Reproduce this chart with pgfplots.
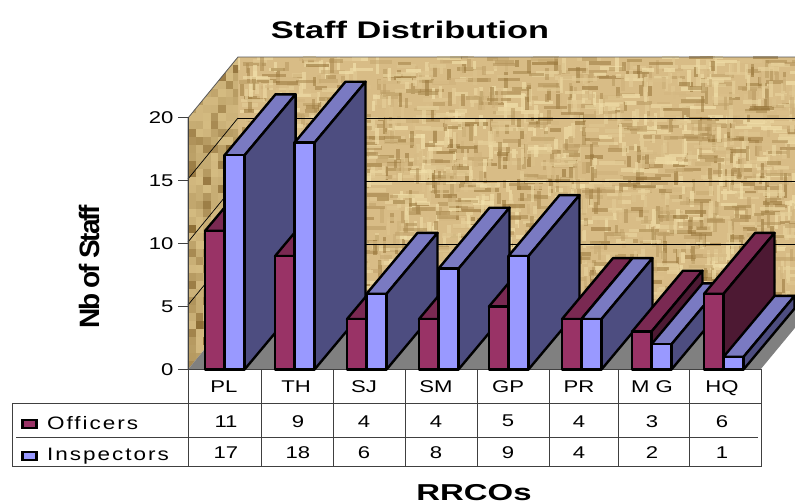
\documentclass[border=0pt]{standalone}
\usepackage{fontspec}
\usepackage{pgfplots}
\usepackage{pgfplotstable}
\pgfplotsset{compat=1.18}
\setmainfont{Liberation Sans}
\newfontfamily\tabfont[FakeStretch=1.3]{Liberation Sans}
\newfontfamily\legfont[FakeStretch=1.25,LetterSpace=11]{Liberation Sans}
\newfontfamily\headfont[FakeStretch=1.43]{Liberation Sans Bold}
\newfontfamily\yfont[LetterSpace=-8]{Liberation Sans Bold}

\definecolor{offF}{HTML}{993366}
\definecolor{offT}{HTML}{7A2952}
\definecolor{offS}{HTML}{4D1933}
\definecolor{insF}{HTML}{9999FF}
\definecolor{insT}{HTML}{7A7AC2}
\definecolor{insS}{HTML}{4D4D80}
\definecolor{wallB}{HTML}{D8BC86}
\definecolor{wallL}{HTML}{F3E2AC}
\definecolor{wallD}{HTML}{8F6C30}
\definecolor{sideL}{HTML}{E8D096}
\definecolor{sideD}{HTML}{85652E}
\definecolor{tline}{HTML}{404040}

\pgfplotstableread{
cat off ins pos lab
PL  11  17  0.238 0.531
TH  9   18  1.216 1.537
SJ  4   6   2.222 2.460
SM  4   8   3.228 3.466
GP  5   9   4.206 4.472
PR  4   4   5.226 5.464
{M G} 3 2   6.204 6.484
HQ  6   1   7.211 7.462
}\staff

% one 3d bar: x0, x1, height, front, top, side colours
\newcommand{\threedbar}[6]{%
  \pgfmathsetmacro\xa{#1}\pgfmathsetmacro\xb{#2}%
  \pgfmathsetmacro\xc{#1+0.713}\pgfmathsetmacro\xd{#2+0.713}%
  \pgfmathsetmacro\yt{#3+4.84}\pgfmathsetmacro\yb{4.84}%
  \edef\temp{%
    \noexpand\addplot[fill=#5,draw=black,line width=2.4pt,line join=round,mark=none]
      coordinates {(\xa,#3) (\xc,\yt) (\xd,\yt) (\xb,#3)} -- cycle;
    \noexpand\addplot[fill=#6,draw=black,line width=2.4pt,line join=round,mark=none]
      coordinates {(\xb,0) (\xd,\yb) (\xd,\yt) (\xb,#3)} -- cycle;
    \noexpand\addplot[fill=#4,draw=black,line width=2.4pt,line join=round,mark=none]
      coordinates {(\xa,0) (\xb,0) (\xb,#3) (\xa,#3)} -- cycle;
  }\temp}

\begin{document}
\begin{tikzpicture}
\useasboundingbox (0,0) rectangle (795pt,503pt);
\clip (0,0) rectangle (795pt,503pt);

% walls and floor in pixel coordinates
\begin{scope}[shift={(0,503pt)},x=1pt,y=-1pt]
  \pgfmathsetseed{4711}
  \begin{scope}
    \clip (238,57) rectangle (796,309);
    \fill[wallB] (238,57) rectangle (796,309);
    % woven texture: short dashes, lying and standing
    \foreach \k in {1,...,2600}{
      \pgfmathsetmacro\px{238+558*rnd}
      \pgfmathsetmacro\py{57+252*rnd}
      \pgfmathsetmacro\p{int(100*rnd)}
      \pgfmathsetmacro\ln{10+16*rnd}
      \pgfmathparse{rnd<0.5?1:0}
      \ifnum\pgfmathresult=1
        \pgfmathparse{rnd<0.5?1:0}
        \ifnum\pgfmathresult=1
          \draw[wallD!\p!wallB,line width=3.6pt,opacity=0.55] (\px,\py) -- ++(\ln,0);
        \else
          \draw[wallL!\p!wallB,line width=3.6pt,opacity=0.7] (\px,\py) -- ++(\ln,0);
        \fi
      \else
        \pgfmathparse{rnd<0.5?1:0}
        \ifnum\pgfmathresult=1
          \draw[wallD!\p!wallB,line width=3.6pt,opacity=0.55] (\px,\py) -- ++(0,\ln*0.7);
        \else
          \draw[wallL!\p!wallB,line width=3.6pt,opacity=0.7] (\px,\py) -- ++(0,\ln*0.7);
        \fi
      \fi
    }
  \end{scope}
  \begin{scope}
    \clip (188,118) -- (238,57) -- (238,308.5) -- (188,369.5) -- cycle;
    \foreach \i in {0,...,6}{
      \foreach \j in {0,...,39}{
        \pgfmathsetmacro\p{int(20+75*rnd*rnd)}
        \fill[sideD!\p!sideL] (188+\i*7.5,57+\j*8) rectangle ++(7.9,8.4);
      }
    }
  \end{scope}
  \draw[gray!70!black,line width=0.8pt] (188,369.5) -- (188,118) -- (238,57) -- (795,57);
  \foreach \y in {118,181,244}{
    \draw[black,line width=0.7pt] (238,\y) -- (795,\y);
    \draw[black,line width=0.7pt] (188,\y+61) -- (238,\y);
  }
  \fill[gray] (188,369.5) -- (238,308.5) -- (811,308.5) -- (760.5,369.5) -- cycle;
\end{scope}

\begin{axis}[
    at={(188pt,133.5pt)},
    anchor=south west,
    scale only axis,
    width=572.5pt,
    height=252pt,
    xmin=0, xmax=8,
    ymin=0, ymax=20,
    clip=false,
    axis x line=bottom,
    axis y line=left,
    axis line style={-,color=tline,line width=1pt},
    xtick={0.5,1.51,2.46,3.466,4.472,5.464,6.484,7.462},
    xticklabels from table={\staff}{cat},
    xtick style={draw=none},
    ytick={0,5,10,15,20},
    ytick style={color=tline,line width=1pt},
    tick align=outside,
    major tick length=10pt,
    /pgf/number format/assume math mode=true,
    xticklabel style={font=\tabfont\fontsize{17}{17}\selectfont,yshift=2pt},
    yticklabel style={font=\tabfont\fontsize{17}{17}\selectfont,xshift=-1pt},
  ]
\pgfplotsinvokeforeach{0,...,7}{
  \pgfplotstablegetelem{#1}{off}\of\staff \let\voff\pgfplotsretval
  \pgfplotstablegetelem{#1}{ins}\of\staff \let\vins\pgfplotsretval
  \pgfplotstablegetelem{#1}{pos}\of\staff \let\vpos\pgfplotsretval
  \pgfplotstablegetelem{#1}{lab}\of\staff \let\xn\pgfplotsretval
  \pgfmathsetmacro\xo{\vpos}
  \pgfmathsetmacro\xm{\vpos+0.272}
  \pgfmathsetmacro\xe{\vpos+0.552}
  \threedbar{\xo}{\xm}{\voff}{offF}{offT}{offS}
  \threedbar{\xm}{\xe}{\vins}{insF}{insT}{insS}
  \edef\temp{%
    \noexpand\node[font=\noexpand\tabfont\noexpand\fontsize{17}{17}\noexpand\selectfont] at (axis cs:\xn,-4.1) {\voff};
    \noexpand\node[font=\noexpand\tabfont\noexpand\fontsize{17}{17}\noexpand\selectfont] at (axis cs:\xn,-6.6) {\vins};
  }\temp
}
\end{axis}

% data table, legend keys and titles
\begin{scope}[shift={(0,503pt)},x=1pt,y=-1pt]
  \draw[tline,line width=1pt] (12,403.5) -- (761,403.5);
  \draw[tline,line width=1pt] (16,438) -- (758,438);
  \draw[tline,line width=1pt] (12,403.5) -- (12,467) -- (761,467);
  \foreach \x in {188,261,333,405,477,549,618,689,761}{
    \draw[tline,line width=1pt] (\x,369.5) -- (\x,467);
  }
  \draw[black,fill=offF,line width=2.4pt] (22.5,420) rectangle (36.5,428);
  \draw[black,fill=insF,line width=2.4pt] (22.5,452) rectangle (36.5,460);
  \node[anchor=base west,inner sep=0pt,font=\legfont\fontsize{18}{18}\selectfont] at (47,430) {Officers};
  \node[anchor=base west,inner sep=0pt,font=\legfont\fontsize{18}{18}\selectfont] at (47,461) {Inspectors};
  \node[anchor=base,inner sep=0pt,font=\headfont\fontsize{24}{24}\selectfont] at (410,38.5) {Staff Distribution};
  \node[anchor=base,inner sep=0pt,font=\headfont\fontsize{23}{23}\selectfont] at (474,501) {RRCOs};
  \node[rotate=90,anchor=base,inner sep=0pt,font=\yfont\fontsize{28}{28}\selectfont] at (99,267) {Nb of Staff};
\end{scope}
\end{tikzpicture}
\end{document}
